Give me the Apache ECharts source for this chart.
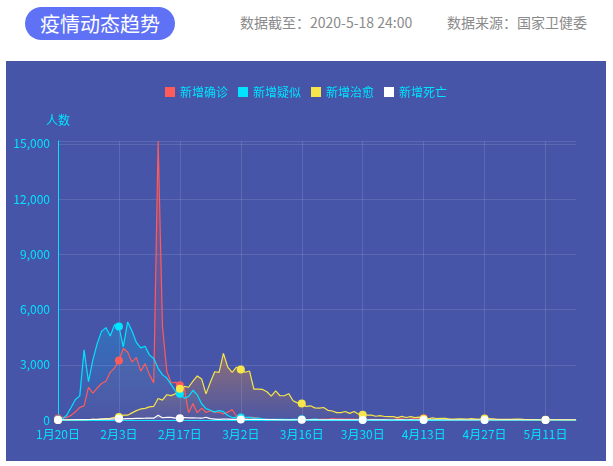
<!DOCTYPE html>
<html>
<head>
<meta charset="utf-8">
<script src="https://cdn.jsdelivr.net/npm/echarts@6/dist/echarts.min.js"></script>
<style>
    body {margin: 0; background: #fff; font-family: "Noto Sans CJK SC", sans-serif;}
    .title {position: absolute; left: 25px; top: 7px; width: 150px; height: 33px; border-radius: 17px;
        background: #5f72f5; color: #fff; font-size: 20px; line-height: 33px; text-align: center;}
    .info {position: absolute; top: 12px; font-size: 14px; color: #8a8a8a; line-height: 20px;}
    .panel {position: absolute; left: 6px; top: 61px; width: 600px; height: 400px; background: #4655a8;}
</style>
</head>
<body>
<div class="title">疫情动态趋势</div>
<div class="info" style="left: 240px">数据截至：2020-5-18 24:00</div>
<div class="info" style="left: 447px">数据来源：国家卫健委</div>
<div class="panel"><div id="chart" style="width: 600px; height: 400px"></div></div>
<script>
// 日期 1月20日 ~ 5月18日
const monthDays = [[1, 20, 31], [2, 1, 29], [3, 1, 31], [4, 1, 30], [5, 1, 18]]
const dates = []
monthDays.forEach(([m, from, to]) => {
    for (let d = from; d <= to; d++) dates.push(m + '月' + d + '日')
})

// 新增确诊
const confirmAdd = [
    77, 149, 131, 259, 444, 688, 769, 1771, 1459, 1737, 1982, 2102,
    2590, 2829, 3235, 3887, 3694, 3143, 3399, 2656, 3062, 2478, 2015, 15152, 5090, 2641, 2009, 2048, 1886, 1749, 394, 889, 397, 648, 409, 508, 406, 433, 327, 427, 573,
    202, 125, 119, 139, 143, 99, 44, 40, 19, 24, 15, 8, 11, 20, 16, 21, 13, 34, 39, 41, 46, 39, 78, 47, 67, 55, 54, 45, 31, 48, 36,
    35, 31, 19, 30, 39, 32, 62, 63, 42, 46, 99, 108, 89, 46, 26, 27, 27, 16, 12, 11, 30, 10, 10, 6, 11, 3, 6, 22, 4, 12,
    2, 1, 3, 1, 2, 2, 4, 1, 14, 17, 1, 7, 3, 4, 5, 4, 5, 6
]
// 新增疑似
const suspectAdd = [
    27, 53, 257, 680, 1118, 1309, 3806, 2077, 3248, 4148, 4812, 5019,
    4562, 5173, 5072, 3971, 5328, 4833, 4214, 3916, 4008, 3536, 3342, 2807, 2450, 2277, 1918, 1563, 1432, 1185, 1277, 1614, 1361, 882, 620, 530, 439, 508, 452, 248, 132,
    141, 129, 143, 143, 102, 99, 60, 41, 36, 31, 33, 33, 17, 39, 41, 45, 21, 23, 45, 18, 14, 15, 17, 9, 13, 14, 11, 5, 7, 8, 4,
    11, 4, 5, 8, 3, 5, 12, 8, 10, 11, 7, 6, 10, 19, 4, 7, 5, 2, 3, 2, 1, 4, 0, 1, 3, 0, 2, 3, 1, 2,
    1, 1, 0, 1, 2, 1, 1, 0, 3, 1, 2, 3, 0, 2, 3, 1, 3, 1
]
// 新增治愈
const healAdd = [
    0, 0, 0, 6, 3, 11, 2, 9, 43, 21, 47, 72,
    85, 147, 157, 262, 261, 387, 510, 600, 632, 716, 744, 1171, 1081, 1373, 1323, 1425, 1701, 1824, 1779, 2109, 2394, 2231, 1418, 2046, 2622, 2589, 3622, 2870, 2589,
    2867, 2742, 2592, 2660, 1681, 1678, 1661, 1535, 1297, 1578, 1318, 1318, 1430, 1048, 930, 894, 736, 772, 658, 641, 680, 526, 488, 401, 405, 460, 360, 460, 322, 281, 270,
    269, 205, 233, 190, 188, 187, 128, 196, 134, 184, 127, 157, 68, 65, 111, 76, 87, 84, 51, 53, 63, 63, 54, 71, 49, 60, 75, 73, 61, 39,
    40, 36, 39, 51, 50, 34, 22, 28, 10, 12, 9, 19, 14, 9, 8, 4, 13, 2
]
// 新增死亡
const deadAdd = [
    0, 3, 8, 8, 16, 15, 24, 26, 26, 38, 43, 46,
    45, 57, 64, 65, 73, 73, 86, 89, 97, 108, 97, 254, 121, 143, 142, 105, 98, 136, 114, 118, 109, 97, 150, 71, 52, 29, 44, 47, 35,
    42, 31, 38, 31, 30, 28, 27, 22, 17, 22, 11, 7, 13, 10, 14, 13, 11, 8, 3, 7, 6, 9, 7, 4, 6, 5, 3, 5, 4, 1, 1,
    6, 4, 4, 3, 1, 1, 2, 2, 1, 3, 1, 2, 0, 0, 0, 0, 0, 0, 0, 0, 0, 0, 0, 0, 0, 0, 0, 0, 0, 0,
    0, 0, 0, 0, 0, 0, 0, 0, 0, 0, 0, 0, 0, 0, 0, 0, 0, 0
]

const seriesNames = ['新增确诊', '新增疑似', '新增治愈', '新增死亡']
const seriesColors = ['#ff5b5b', '#00e4ff', '#f7e64a', '#ffffff']
const areaColors = [
    ['rgba(255,91,91,0.45)', 'rgba(255,91,91,0.05)'],
    ['rgba(0,200,255,0.35)', 'rgba(0,200,255,0.02)'],
    ['rgba(255,150,50,0.55)', 'rgba(255,150,50,0.05)'],
    ['rgba(255,255,255,0.3)', 'rgba(255,255,255,0)']
]
const seriesData = [confirmAdd, suspectAdd, healAdd, deadAdd]

const textColor = '#00e4ff'
const font = '"Noto Sans CJK SC", sans-serif'

const chart = echarts.init(document.getElementById('chart'))
chart.setOption({
    animation: false,
    textStyle: {fontFamily: font},
    legend: {
        top: 20,
        left: 'center',
        icon: 'rect',
        itemWidth: 10,
        itemHeight: 10,
        itemGap: 10,
        textStyle: {color: textColor, fontSize: 12, fontFamily: font},
        data: seriesNames
    },
    grid: {left: 52, right: 30, top: 80, bottom: 41},
    xAxis: {
        type: 'category',
        boundaryGap: false,
        data: dates,
        axisLine: {lineStyle: {color: textColor}},
        axisTick: {show: false},
        axisLabel: {color: textColor, fontSize: 12, interval: 13, fontFamily: font},
        splitLine: {show: true, interval: 13, lineStyle: {color: 'rgba(255,255,255,0.12)'}}
    },
    yAxis: {
        type: 'value',
        name: '人数',
        nameTextStyle: {color: textColor, fontSize: 12, fontFamily: font},
        min: 0,
        max: 'dataMax',
        interval: 3000,
        axisLine: {show: true, lineStyle: {color: textColor}},
        axisTick: {show: false},
        axisLabel: {color: textColor, fontSize: 12, showMaxLabel: false, fontFamily: font},
        splitLine: {lineStyle: {color: 'rgba(255,255,255,0.12)'}}
    },
    series: seriesNames.map((name, i) => ({
        name: name,
        type: 'line',
        data: seriesData[i],
        symbol: 'circle',
        symbolSize: 8,
        lineStyle: {width: 1.2, color: seriesColors[i]},
        itemStyle: {color: seriesColors[i]},
        areaStyle: {
            color: new echarts.graphic.LinearGradient(0, 0, 0, 1, [
                {offset: 0, color: areaColors[i][0]},
                {offset: 1, color: areaColors[i][1]}
            ])
        }
    }))
})
</script>
</body>
</html>
